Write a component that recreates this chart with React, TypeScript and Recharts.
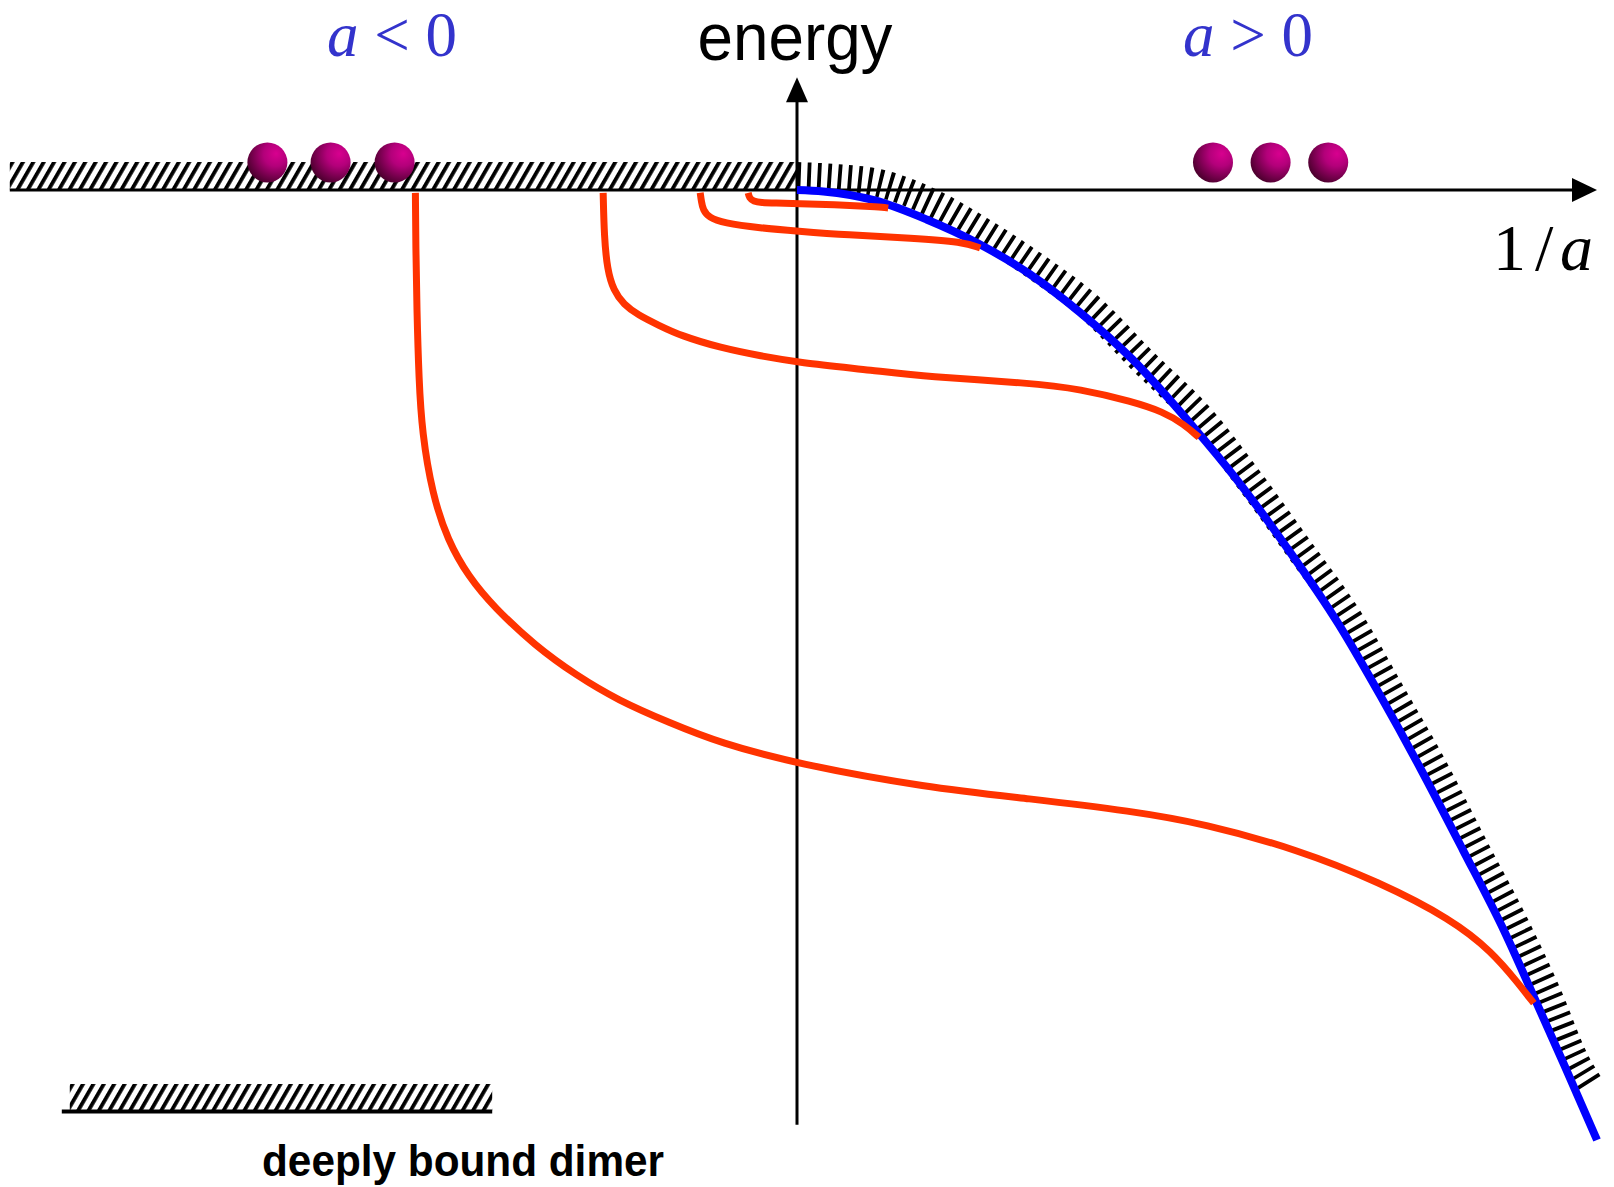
import {
  ComposedChart,
  Line,
  Scatter,
  XAxis,
  YAxis,
  ReferenceArea,
  ReferenceLine,
} from 'recharts'

// x = 1/a (arbitrary units, dimer curve ends at 1), e = energy
const X_DOMAIN: [number, number] = [-0.99625, 1.02125]
const E_DOMAIN: [number, number] = [-1.04947, 0.2]

// shallow dimer, E ~ -1/a^2
const dimerX = [0, 0.033, 0.0975, 0.162, 0.226, 0.29, 0.354, 0.419, 0.496, 0.548, 0.612, 0.677, 0.729, 0.78, 0.832, 0.884, 0.921, 0.959, 1.0]
const dimerE = [0, -0.0015, -0.011, -0.031, -0.056, -0.088, -0.129, -0.178, -0.25, -0.303, -0.376, -0.457, -0.532, -0.61, -0.694, -0.78, -0.849, -0.921, -1.0]

// centre line of the hatched atom-dimer threshold band
const bandX = [0, 0.05, 0.101, 0.1675, 0.235, 0.3, 0.366, 0.431, 0.51, 0.561, 0.627, 0.691, 0.7425, 0.794, 0.847, 0.898, 0.937, 0.975, 0.99]
const bandE = [0.0147, 0.0125, 0.0075, -0.013, -0.0455, -0.0815, -0.1235, -0.179, -0.245, -0.3005, -0.377, -0.453, -0.529, -0.605, -0.692, -0.774, -0.844, -0.92, -0.941]

// Efimov trimer branches, deepest first
const trimer0X = [-0.477, -0.4765, -0.4752, -0.4726, -0.4687, -0.4559, -0.4366, -0.4109, -0.3787, -0.327, -0.2757, -0.224, -0.16, -0.0956, 0, 0.162, 0.2904, 0.419, 0.509, 0.625, 0.728, 0.818, 0.869, 0.9015, 0.921]
const trimer0E = [-0.003, -0.06, -0.125, -0.2, -0.255, -0.32, -0.369, -0.4067, -0.4393, -0.48, -0.511, -0.537, -0.5606, -0.5823, -0.604, -0.629, -0.6407, -0.6538, -0.667, -0.694, -0.7285, -0.7676, -0.802, -0.835, -0.856]

const trimer1X = [-0.2423, -0.241, -0.2371, -0.2294, -0.2165, -0.1985, -0.1728, -0.1458, -0.0956, -0.0441, 0, 0.0975, 0.1618, 0.2904, 0.3547, 0.419, 0.4577, 0.4834, 0.5026]
const trimer1E = [-0.003, -0.0492, -0.0839, -0.1056, -0.1207, -0.1316, -0.1424, -0.1532, -0.1662, -0.1749, -0.1814, -0.19, -0.1966, -0.203, -0.2095, -0.2226, -0.2334, -0.2464, -0.2605]

const trimer2X = [-0.121, -0.1195, -0.1175, -0.11, -0.0925, -0.046, 0, 0.062, 0.145, 0.2075, 0.229]
const trimer2E = [-0.003, -0.012, -0.021, -0.029, -0.0347, -0.04, -0.0432, -0.0474, -0.0505, -0.0547, -0.061]

const trimer3X = [-0.061, -0.0595, -0.0545, -0.045, -0.0275, 0, 0.054, 0.104, 0.114]
const trimer3E = [-0.003, -0.0085, -0.0118, -0.0132, -0.0137, -0.0142, -0.0158, -0.0179, -0.019]

// three free atoms on either side
const atomsLeftX = [-0.662, -0.583, -0.503]
const atomsRightX = [0.52, 0.592, 0.664]
const atomsE = 0.029

const toPoints = (xs: number[], es: number[]) => xs.map((x, i) => ({ x, e: es[i] }))

const dimer = toPoints(dimerX, dimerE)
const band = toPoints(bandX, bandE)
const trimers = [
  toPoints(trimer0X, trimer0E),
  toPoints(trimer1X, trimer1E),
  toPoints(trimer2X, trimer2E),
  toPoints(trimer3X, trimer3E),
]
const atoms = [...atomsLeftX, ...atomsRightX].map((x) => ({ x, e: atomsE }))

const RED = '#ff3300'
const BLUE = '#0000ff'
const LABEL_BLUE = '#3333cc'
const SERIF = '"Liberation Serif", "Times New Roman", serif'
const SANS = '"Liberation Sans", Arial, sans-serif'

function Ball(props: any) {
  const { cx, cy } = props
  return <circle cx={cx} cy={cy} r={20} fill="url(#ball)" />
}

function ArrowRight(props: any) {
  const { cx, cy } = props
  return <polygon points={`${cx},${cy} ${cx - 25},${cy - 12} ${cx - 25},${cy + 12}`} fill="#000" />
}

function ArrowUp(props: any) {
  const { cx, cy } = props
  return <polygon points={`${cx},${cy} ${cx - 11},${cy + 25} ${cx + 11},${cy + 25}`} fill="#000" />
}

export default function App() {
  return (
    <div style={{ position: 'absolute', left: 0, top: 0, width: 1614, height: 1187, background: '#fff' }}>
      <ComposedChart width={1614} height={1187} margin={{ top: 0, right: 0, bottom: 0, left: 0 }}>
        <defs>
          <pattern id="hatch" patternUnits="userSpaceOnUse" width="9" height="24" patternTransform="rotate(30)">
            <rect x="0" y="0" width="3.8" height="24" fill="#000" />
          </pattern>
          <radialGradient id="ball" cx="0.68" cy="0.32" r="0.75" fx="0.72" fy="0.28">
            <stop offset="0" stopColor="#d8008f" />
            <stop offset="0.4" stopColor="#b3007a" />
            <stop offset="1" stopColor="#4a002c" />
          </radialGradient>
        </defs>

        <XAxis type="number" dataKey="x" domain={X_DOMAIN} allowDataOverflow hide />
        <YAxis type="number" dataKey="e" domain={E_DOMAIN} allowDataOverflow hide />

        {/* three-atom threshold for a < 0 */}
        <ReferenceArea x1={-0.984} x2={0} y1={0} y2={0.0295} fill="url(#hatch)" fillOpacity={1} stroke="none" ifOverflow="visible" />

        {/* deeply bound dimer threshold */}
        <ReferenceArea x1={-0.909} x2={-0.381} y1={-0.969} y2={-0.941} fill="url(#hatch)" fillOpacity={1} stroke="none" ifOverflow="visible" />
        <ReferenceLine segment={[{ x: -0.919, y: -0.97 }, { x: -0.381, y: -0.97 }]} stroke="#000" strokeWidth={4} ifOverflow="visible" />

        {/* axes */}
        <ReferenceLine segment={[{ x: -0.984, y: 0 }, { x: 0.975, y: 0 }]} stroke="#000" strokeWidth={3} ifOverflow="visible" />
        <ReferenceLine segment={[{ x: 0, y: 0.1 }, { x: 0, y: -0.984 }]} stroke="#000" strokeWidth={3} ifOverflow="visible" />

        <Line
          data={band}
          dataKey="e"
          type="monotone"
          stroke="#000"
          strokeWidth={28}
          strokeDasharray="3.8 6.4"
          dot={false}
          activeDot={false}
          isAnimationActive={false}
        />
        <Line
          data={dimer}
          dataKey="e"
          type="monotone"
          stroke={BLUE}
          strokeWidth={8}
          dot={false}
          activeDot={false}
          isAnimationActive={false}
        />
        {trimers.map((pts, i) => (
          <Line
            key={i}
            data={pts}
            dataKey="e"
            type="basis"
            stroke={RED}
            strokeWidth={7}
            dot={false}
            activeDot={false}
            isAnimationActive={false}
          />
        ))}

        <Scatter data={atoms} dataKey="e" shape={<Ball />} isAnimationActive={false} />
        <Scatter data={[{ x: 1.0, e: 0 }]} dataKey="e" shape={<ArrowRight />} isAnimationActive={false} />
        <Scatter data={[{ x: 0, e: 0.1187 }]} dataKey="e" shape={<ArrowUp />} isAnimationActive={false} />

        <text x={327} y={56} fontFamily={SERIF} fontSize={63} fill={LABEL_BLUE}>
          <tspan fontStyle="italic">a</tspan>
          <tspan>{' < 0'}</tspan>
        </text>
        <text x={1183} y={56} fontFamily={SERIF} fontSize={63} fill={LABEL_BLUE}>
          <tspan fontStyle="italic">a</tspan>
          <tspan>{' > 0'}</tspan>
        </text>
        <text x={795} y={60} textAnchor="middle" fontFamily={SANS} fontSize={67} textLength={195} lengthAdjust="spacingAndGlyphs" fill="#000">
          energy
        </text>
        <text y={270} fontFamily={SERIF} fontSize={66} fill="#000">
          <tspan x={1493}>1</tspan>
          <tspan x={1535}>/</tspan>
          <tspan x={1560} fontStyle="italic">a</tspan>
        </text>
        <text x={262} y={1176} fontFamily={SANS} fontWeight="bold" fontSize={44} textLength={402} lengthAdjust="spacingAndGlyphs" fill="#000">
          deeply bound dimer
        </text>
      </ComposedChart>
    </div>
  )
}
